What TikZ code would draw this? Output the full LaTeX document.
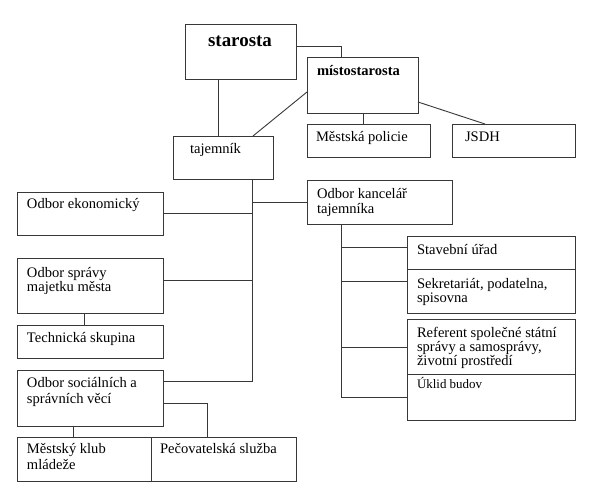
\documentclass[tikz,border=0pt]{standalone}
\usepackage{fontspec}
\setmainfont{Liberation Serif}
\begin{document}
\begin{tikzpicture}[x=1bp,y=-1bp,
  box/.style={draw=black!78, line width=0.9bp, rectangle, inner sep=0pt, outer sep=0pt},
  conn/.style={draw=black!78, line width=0.9bp},
  lbl/.style={anchor=base west, inner sep=0pt, outer sep=0pt, font=\fontsize{14.6}{16}\selectfont, align=left}]
\fill[white] (0,0) rectangle (599,494);
\useasboundingbox (0,0) rectangle (599,494);
% boxes
\node[box, minimum width=111bp, minimum height=55bp] (staro) at (240.5,51.5) {};
\node[box, minimum width=111bp, minimum height=56bp] (misto) at (362.5,85) {};
\node[box, minimum width=100bp, minimum height=43bp] (taj) at (223,157.5) {};
\node[box, minimum width=123bp, minimum height=33bp] (polic) at (368.5,140.5) {};
\node[box, minimum width=123bp, minimum height=33bp] (jsdh) at (513.5,140.5) {};
\node[box, minimum width=145bp, minimum height=44bp] (kanc) at (379.5,202) {};
\node[box, minimum width=146bp, minimum height=43bp] (ekon) at (90,213.5) {};
\node[box, minimum width=146bp, minimum height=55bp] (sprav) at (90,285.5) {};
\node[box, minimum width=146bp, minimum height=33bp] (tech) at (90,341.5) {};
\node[box, minimum width=146bp, minimum height=56bp] (soc) at (90,398) {};
\node[box, minimum width=134bp, minimum height=44bp] (klub) at (84,459) {};
\node[box, minimum width=145bp, minimum height=44bp] (pec) at (223.5,459) {};
\node[box, minimum width=168bp, minimum height=33bp] (stav) at (491,252.5) {};
\node[box, minimum width=168bp, minimum height=44bp] (sekr) at (491,291) {};
\node[box, minimum width=168bp, minimum height=55bp] (ref) at (491,346.5) {};
\node[box, minimum width=168bp, minimum height=46bp] (ukl) at (491,397) {};
% labels
\node[lbl, font=\fontsize{19}{21}\selectfont\bfseries, anchor=base] (tStaro) at (240,47) {starosta};
\node[lbl, font=\fontsize{14.6}{16}\selectfont\bfseries] (tMisto) at ([xshift=10bp,yshift=-19bp]misto.north west) {místostarosta};
\node[lbl] (tTaj) at ([xshift=17bp,yshift=-17.5bp]taj.north west) {tajemník};
\node[lbl] (tPolic) at ([xshift=9bp,yshift=-18bp]polic.north west) {Městská policie};
\node[lbl] (tJsdh) at ([xshift=13bp,yshift=-18bp]jsdh.north west) {JSDH};
\node[lbl] (tKanc) at ([xshift=10bp,yshift=-19bp]kanc.north west) {\begin{tabular}[t]{@{}l@{}}Odbor kancelář\\[-1.5bp]tajemníka\end{tabular}};
\node[lbl] (tEkon) at ([xshift=10bp,yshift=-17bp]ekon.north west) {Odbor ekonomický};
\node[lbl] (tSprav) at ([xshift=10bp,yshift=-19bp]sprav.north west) {\begin{tabular}[t]{@{}l@{}}Odbor správy\\[-1.5bp]majetku města\end{tabular}};
\node[lbl] (tTech) at ([xshift=10bp,yshift=-17bp]tech.north west) {Technická skupina};
\node[lbl] (tSoc) at ([xshift=10bp,yshift=-17bp]soc.north west) {\begin{tabular}[t]{@{}l@{}}Odbor sociálních a\\[0.5bp]správních věcí\end{tabular}};
\node[lbl] (tKlub) at ([xshift=10bp,yshift=-16.5bp]klub.north west) {\begin{tabular}[t]{@{}l@{}}Městský klub\\[0.5bp]mládeže\end{tabular}};
\node[lbl] (tPec) at ([xshift=9bp,yshift=-16.5bp]pec.north west) {Pečovatelská služba};
\node[lbl] (tStav) at ([xshift=10bp,yshift=-18bp]stav.north west) {Stavební úřad};
\node[lbl] (tSekr) at ([xshift=10bp,yshift=-19bp]sekr.north west) {\begin{tabular}[t]{@{}l@{}}Sekretariát, podatelna,\\[-1.5bp]spisovna\end{tabular}};
\node[lbl] (tRef) at ([xshift=10bp,yshift=-18bp]ref.north west) {\begin{tabular}[t]{@{}l@{}}Referent společné státní\\[-1.5bp]správy a samosprávy,\\[-1.5bp]životní prostředí\end{tabular}};
\node[lbl, font=\fontsize{13}{15}\selectfont] (tUkl) at ([xshift=10bp,yshift=-14bp]ukl.north west) {Úklid budov};
% helper coordinates
\coordinate (j1) at (341,46);
\coordinate (xs) at (218,0);
\coordinate (xp) at (363,0);
\coordinate (tr) at (252,381);
\coordinate (yKanc) at (0,202);
\coordinate (yEkon) at (0,213);
\coordinate (ySprav) at (0,280);
\coordinate (xTech) at (84,0);
\coordinate (j2) at (207,403);
\coordinate (xKlub) at (73,0);
\coordinate (rv) at (341,397);
\coordinate (yStav) at (0,247);
\coordinate (ySekr) at (0,281);
\coordinate (yRef) at (0,347);
% connectors
\draw[conn] (staro.east |- j1) -- (j1) -- (j1 |- misto.north);
\draw[conn] (staro.south -| xs) -- (taj.north -| xs);
\draw[conn] ([yshift=-7bp]misto.west) -- ([xshift=30bp]taj.north);
\draw[conn] (misto.south -| xp) -- (polic.north -| xp);
\draw[conn] ([yshift=-17bp]misto.east) -- ([xshift=-28.5bp]jsdh.north);
\draw[conn] (taj.south -| tr) -- (tr) -- (soc.east |- tr);
\draw[conn] (tr |- yKanc) -- (kanc.west |- yKanc);
\draw[conn] (ekon.east |- yEkon) -- (tr |- yEkon);
\draw[conn] (sprav.east |- ySprav) -- (tr |- ySprav);
\draw[conn] (sprav.south -| xTech) -- (tech.north -| xTech);
\draw[conn] (soc.east |- j2) -- (j2) -- (j2 |- pec.north);
\draw[conn] (soc.south -| xKlub) -- (klub.north -| xKlub);
\draw[conn] (kanc.south -| rv) -- (rv) -- (ukl.west |- rv);
\draw[conn] (rv |- yStav) -- (stav.west |- yStav);
\draw[conn] (rv |- ySekr) -- (sekr.west |- ySekr);
\draw[conn] (rv |- yRef) -- (ref.west |- yRef);
\end{tikzpicture}
\end{document}
